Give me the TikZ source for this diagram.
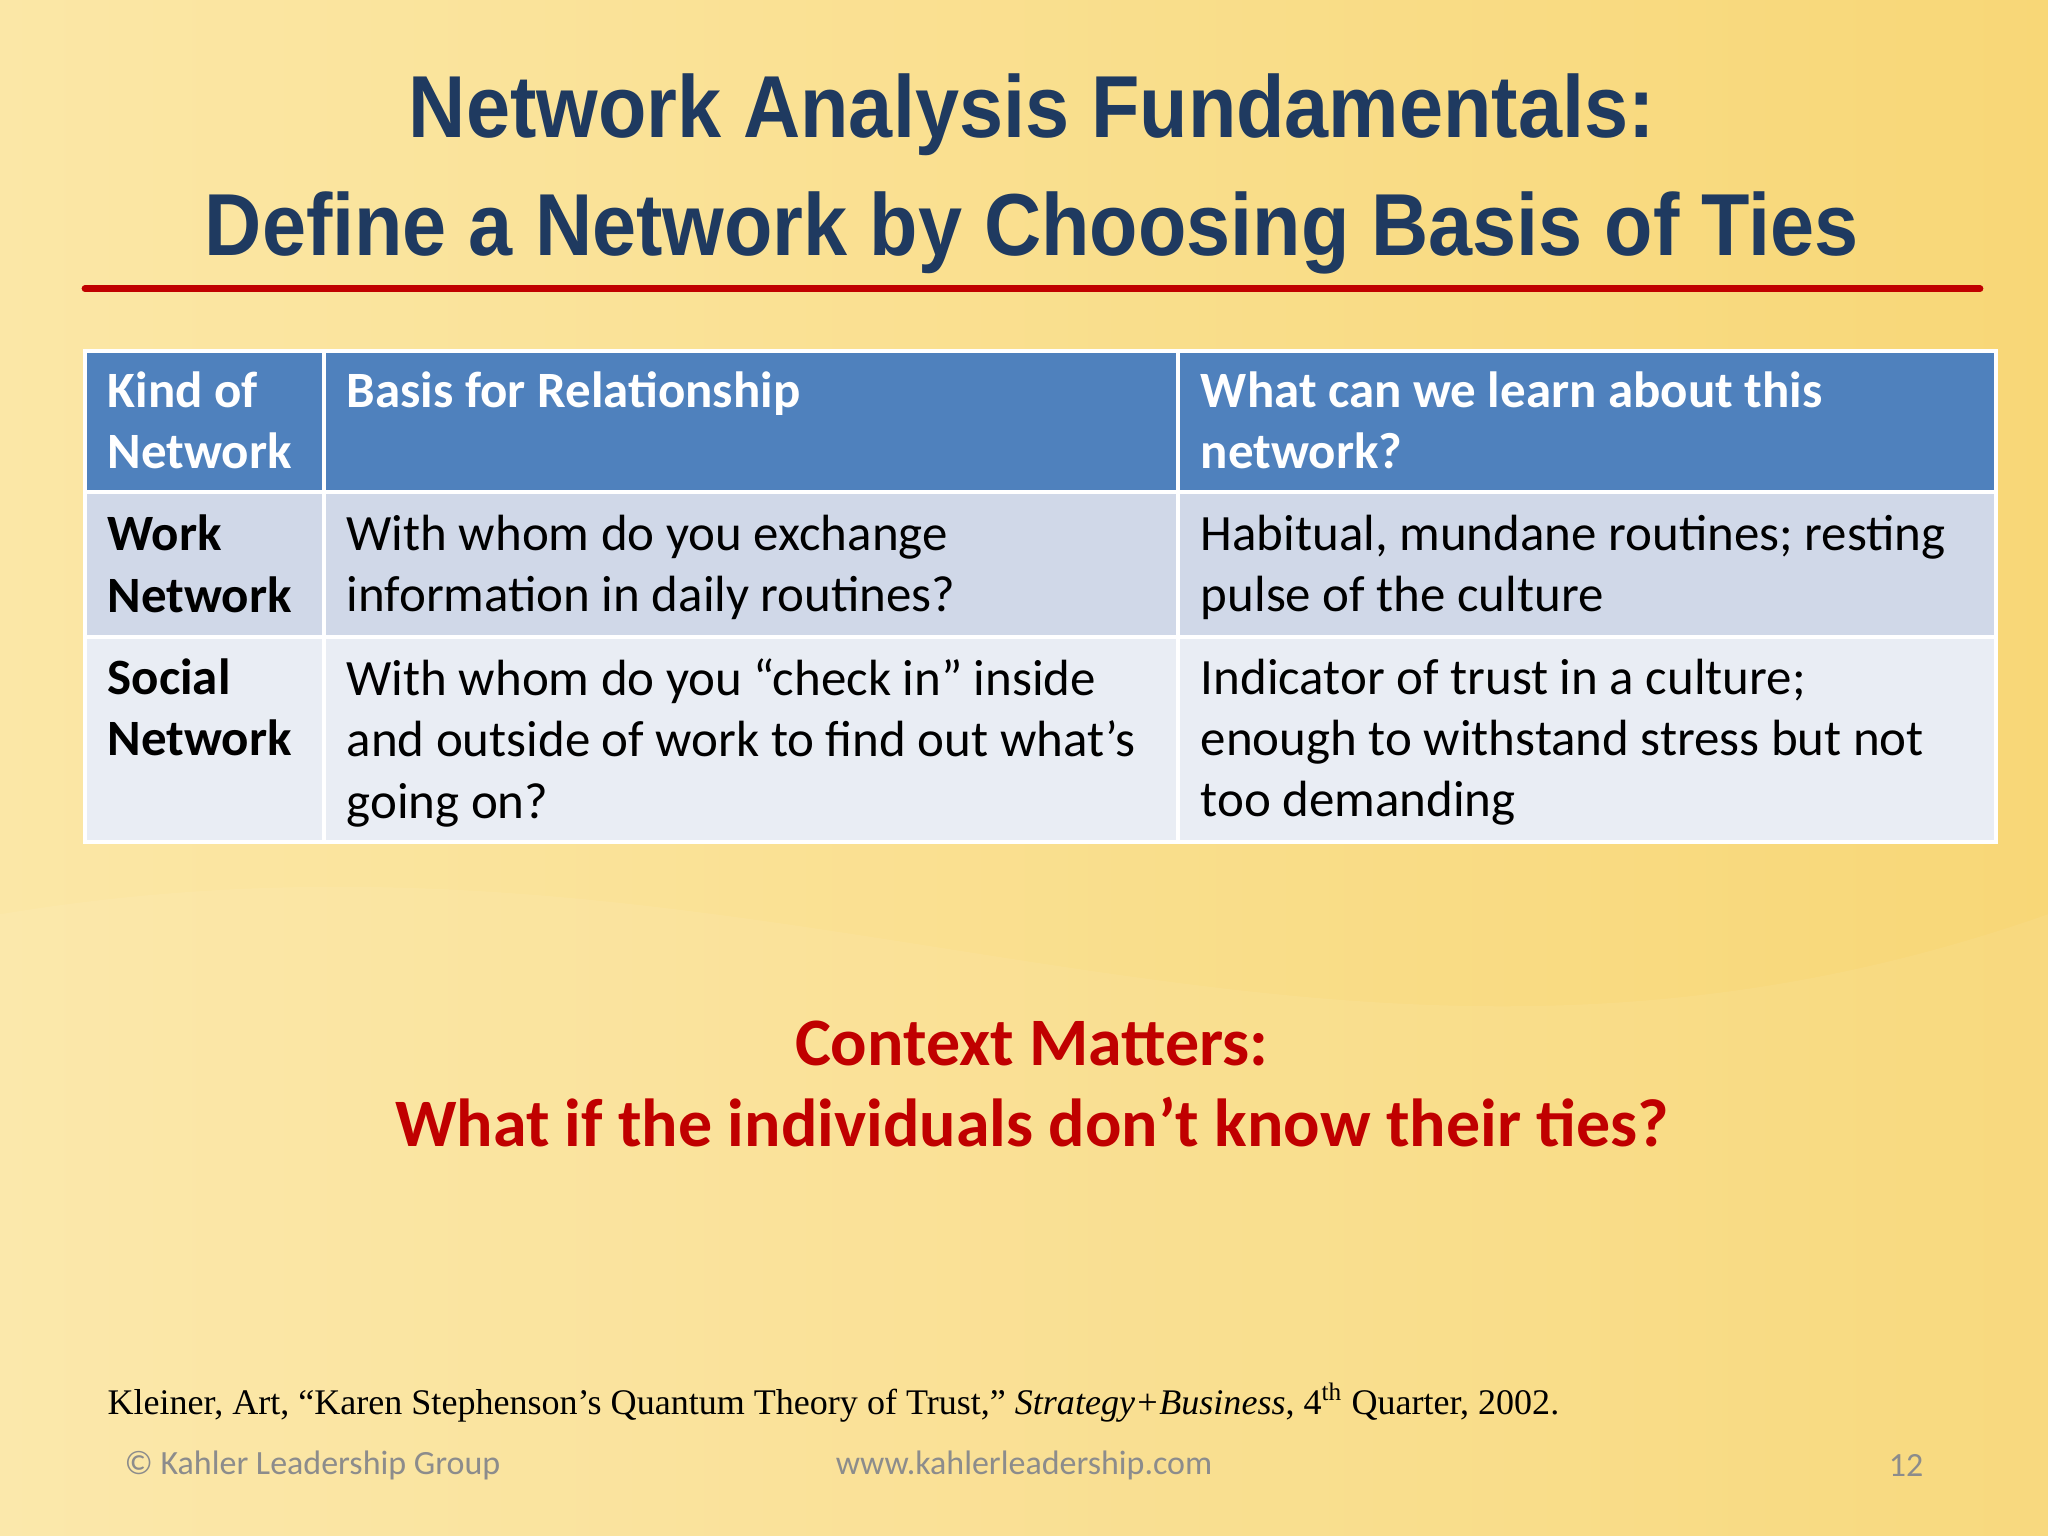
\documentclass[tikz,border=0pt]{standalone}
\usepackage{fontspec}
\setmainfont{Carlito}
\newfontfamily\titlefont[FakeStretch=0.9]{Liberation Sans}
\newfontfamily\seriffont{Liberation Serif}
\definecolor{bgA}{HTML}{FBE7A6}
\definecolor{bgB}{HTML}{F8D777}
\definecolor{ttl}{HTML}{1F3A60}
\definecolor{hdr}{HTML}{4F81BD}
\definecolor{rowA}{HTML}{D0D8E8}
\definecolor{rowB}{HTML}{E9EDF4}
\definecolor{ctx}{HTML}{C00000}
\definecolor{foot}{HTML}{8C8C8C}
\tikzset{
 cell/.style={anchor=north west,align=left,inner sep=0pt,font=\fontsize{19.5}{23.5}\selectfont},
 hcell/.style={cell,text=white,font=\fontsize{19.5}{23.5}\selectfont\bfseries},
 bcell/.style={cell,font=\fontsize{19.5}{23.5}\selectfont\bfseries},
 grid/.style={draw=white,line width=1.5pt}
}
\begin{document}
\begin{tikzpicture}[x=0.5pt,y=-0.5pt]
\useasboundingbox (0,0) rectangle (1568,1176);
\shade[left color=bgA,right color=bgB] (0,0) rectangle (1568,1176);
\fill[white,opacity=0.06] (0,700) .. controls (600,600) and (1000,900) .. (1568,700) -- (1568,1176) -- (0,1176) -- cycle;
\node[font=\titlefont\fontsize{33.7}{40}\selectfont\bfseries,text=ttl] (t1) at (790,88) {Network Analysis Fundamentals:};
\node[font=\titlefont\fontsize{33.7}{40}\selectfont\bfseries,text=ttl] (t2) at (790,178) {Define a Network by Choosing Basis of Ties};
\draw[ctx,line width=2.5pt,line cap=round] (65,221) -- (1516,221);
% table
\fill[hdr] (65,269) rectangle (1528,377);
\fill[rowA] (65,377) rectangle (1528,488);
\fill[rowB] (65,488) rectangle (1528,645);
\draw[grid] (65,269) rectangle (1528,645);
\draw[grid] (65,377) -- (1528,377) (65,488) -- (1528,488);
\draw[grid] (248,269) -- (248,645) (902,269) -- (902,645);
\node[hcell] (h1) at (82,284) {Kind of\\Network};
\node[hcell] (h2) at (265,284) {Basis for Relationship};
\node[hcell] (h3) at (919,284) {What can we learn about this\\network?};
\node[bcell] (a1) at (82,394) {Work\\Network};
\node[cell] (a2) at (265,394) {With whom do you exchange\\information in daily routines?};
\node[cell] (a3) at (919,394) {Habitual, mundane routines; resting\\pulse of the culture};
\node[bcell] (b1) at (82,504) {Social\\Network};
\node[cell] (b2) at (265,504) {With whom do you “check in” inside\\and outside of work to find out what’s\\going on?};
\node[cell] (b3) at (919,504) {Indicator of trust in a culture;\\enough to withstand stress but not\\too demanding};
\node[font=\fontsize{26}{31}\selectfont\bfseries,text=ctx,align=center] (c) at (790,830) {Context Matters:\\What if the individuals don’t know their ties?};
\node[anchor=west,inner sep=0pt,font=\seriffont\fontsize{13.8}{16}\selectfont] (cite) at (82,1074) {Kleiner, Art, “Karen Stephenson’s Quantum Theory of Trust,” \textit{Strategy+Business}, 4\textsuperscript{th} Quarter, 2002.};
\node[anchor=west,inner sep=0pt,font=\fontsize{13}{15}\selectfont,text=foot] (f1) at (95,1122) {© Kahler Leadership Group};
\node[inner sep=0pt,font=\fontsize{13}{15}\selectfont,text=foot] (f2) at (784,1122) {www.kahlerleadership.com};
\node[anchor=east,inner sep=0pt,font=\fontsize{13}{15}\selectfont,text=foot] (f3) at (1473,1122) {12};
\end{tikzpicture}
\end{document}
